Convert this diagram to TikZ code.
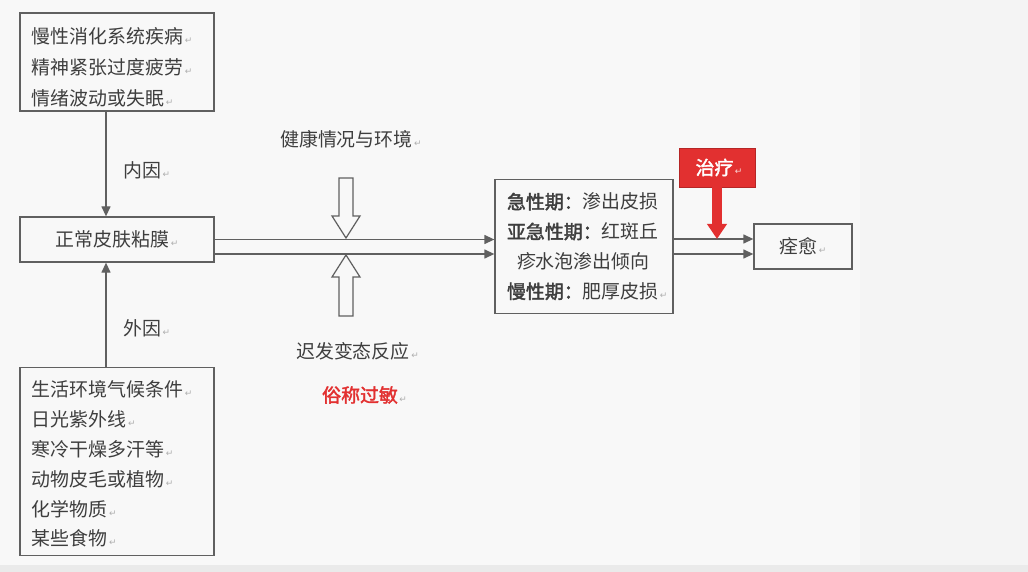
\documentclass[tikz,border=0pt]{standalone}
\usepackage{fontspec}
\setmainfont{Noto Sans CJK SC}
\newfontfamily\cjkb{Noto Sans CJK SC}[FakeBold=2]
\newfontfamily\djv{DejaVu Sans}
\usetikzlibrary{calc,arrows.meta}
\definecolor{bg}{RGB}{248,248,248}
\definecolor{bgr}{RGB}{244,244,244}
\definecolor{ink}{RGB}{62,62,62}
\definecolor{frame}{RGB}{96,96,96}
\definecolor{redc}{RGB}{226,48,48}
\definecolor{pmk}{RGB}{175,175,175}
\newcommand\pmk{{\djv\fontsize{9}{9}\selectfont\color{pmk}\,↵}}
\newcommand\pmkr{\rlap{\pmk}}
\begin{document}
\begin{tikzpicture}[x=1bp,y=-1bp,
  box/.style={draw=frame,line width=1.3bp,inner sep=0pt,text=ink},
  lbl/.style={font=\fontsize{19}{22}\selectfont,text=ink,inner sep=0pt,anchor=west},
  arr/.style={draw=frame,line width=1.3bp,-{Triangle[length=10bp,width=9bp]}},
  hollow/.style={draw=frame,line width=1.2bp,fill=bg,line join=miter},
  redarr/.style={draw=redc,line width=10bp,-{Triangle[length=15bp,width=19bp]}}]
\fill[bg] (0,0) rectangle (1028,572);
\fill[bgr] (860,0) rectangle (1028,572);
\fill[bgr!96!black] (0,565) rectangle (1028,572);
\useasboundingbox (0,0) rectangle (1028,572);

% left boxes
\node[box,minimum width=194bp,minimum height=98bp,text width=170bp,align=left,
  font=\fontsize{19}{31}\selectfont] (b1) at (117,62)
  {\rule{0pt}{27bp}慢性消化系统疾病\pmkr\\精神紧张过度疲劳\pmkr\\情绪波动或失眠\pmkr};
\node[box,minimum width=194bp,minimum height=45bp,font=\fontsize{19}{22}\selectfont] (b2) at (117,239.5)
  {正常皮肤粘膜\pmk};
\node[box,minimum width=194bp,minimum height=188bp,text width=170bp,align=left,
  font=\fontsize{19}{30}\selectfont] (b3) at (117,461.5)
  {\rule{0pt}{21bp}生活环境气候条件\pmkr\\日光紫外线\pmkr\\寒冷干燥多汗等\pmkr\\动物皮毛或植物\pmkr\\化学物质\pmkr\\某些食物\pmkr};

\draw[arr] ([xshift=-11bp]b1.south) -- ([xshift=-11bp]b1.south |- b2.north);
\draw[arr] ([xshift=-11bp]b3.north) -- ([xshift=-11bp]b3.north |- b2.south);
\node[lbl] (ny) at (123,170) {内因\pmk};
\node[lbl] (wy) at (123,328) {外因\pmk};

% middle box
\node[box,minimum width=178bp,minimum height=134bp,text width=154bp,align=left,
  font=\fontsize{19}{30}\selectfont] (b4) at (584,246.5)
  {{\cjkb 急性期：}渗出皮损\\{\cjkb 亚急性期：}红斑丘\\\hspace{10bp}疹水泡渗出倾向\\{\cjkb 慢性期：}肥厚皮损\pmkr};

% result box
\node[box,minimum width=98bp,minimum height=45bp,font=\fontsize{19}{22}\selectfont] (b5) at (803,246.5)
  {痊愈\pmk};

% connectors
\draw[arr] (b2.east) -- (b2.east -| b4.west);
\draw[arr] ([yshift=-14.5bp]b2.east) -- ([yshift=-14.5bp]b2.east -| b4.west);
\draw[arr] ([yshift=7.5bp]b4.east) -- ([yshift=7.5bp]b4.east -| b5.west);
\draw[arr] ([yshift=-7.5bp]b4.east) -- ([yshift=-7.5bp]b4.east -| b5.west);
\coordinate (up) at ([yshift=7.5bp]b4.east);

% hollow arrows
\draw[hollow] (339,178) -- (353,178) -- (353,216) -- (360,216) -- (346,238) -- (332,216) -- (339,216) -- cycle;
\draw[hollow] (346,255) -- (360,277) -- (353,277) -- (353,316) -- (339,316) -- (339,277) -- (332,277) -- cycle;

\node[lbl] (jk) at (280,139) {健康情况与环境\pmk};
\node[lbl] (cf) at (296,351) {迟发变态反应\pmk};
\node[lbl,text=redc] (sc) at (322,395) {\cjkb 俗称过敏\pmk};

% treatment
\node[draw=redc!80!black,line width=0.8bp,fill=redc,minimum width=76bp,minimum height=39bp,inner sep=0pt,
  text=white,font=\fontsize{19}{22}\selectfont] (zl) at (717,167.5) {\hspace{4bp}\cjkb 治疗{\djv\fontsize{9}{9}\selectfont\color{white!80!redc}\,↵}};
\draw[redarr] (zl.south) -- (zl.south |- up);
\end{tikzpicture}
\end{document}
